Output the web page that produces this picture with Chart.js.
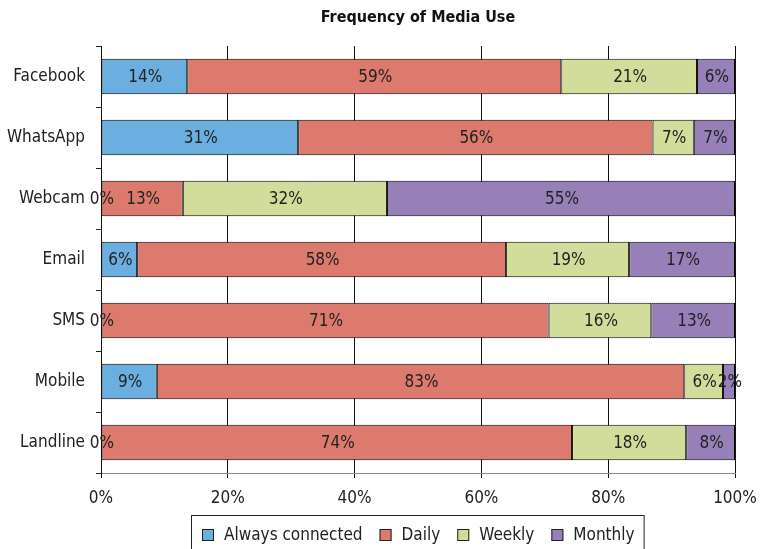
<!DOCTYPE html>
<html>
<head>
<meta charset="utf-8">
<script src="https://cdn.jsdelivr.net/npm/chart.js@4"></script>
<style>
  html, body { margin: 0; padding: 0; background: #fff; }
  #wrap { width: 760px; height: 549px; }
</style>
</head>
<body>
<div id="wrap"><canvas id="chart" width="760" height="549"></canvas></div>
<script>
// media types, top to bottom
var categories = ["Facebook", "WhatsApp", "Webcam", "Email", "SMS", "Mobile", "Landline"];
// share of users per frequency (%)
var alwaysConnected = [13.6, 31.1, 0, 5.7, 0, 8.8, 0];
var daily = [59.0, 55.9, 12.9, 58.2, 70.6, 83.2, 74.3];
var weekly = [21.4, 6.5, 32.2, 19.4, 16.2, 6.1, 18.0];
var monthly = [6.0, 6.5, 54.9, 16.7, 13.2, 1.9, 7.7];
var xTicks = [0, 20, 40, 60, 80, 100];

var FONT = "'DejaVu Sans Condensed', 'Liberation Sans Narrow', sans-serif";
Chart.defaults.font.family = FONT;
Chart.defaults.color = "#222";

// the % text inside each segment (zeros sit on the axis)
var segLabels = {
  id: "segLabels",
  afterDatasetsDraw: function(chart) {
    var ctx = chart.ctx;
    ctx.save();
    ctx.font = "17px " + FONT;
    ctx.fillStyle = "#222";
    ctx.textAlign = "center";
    ctx.textBaseline = "middle";
    chart.data.datasets.forEach(function(ds, i) {
      var meta = chart.getDatasetMeta(i);
      meta.data.forEach(function(bar, j) {
        var v = ds.data[j];
        ctx.fillText(Math.round(v) + "%", (bar.x + bar.base) / 2 + 1, bar.y + 1);
      });
    });
    ctx.restore();
  }
};

// title + boxed legend, drawn by hand so they sit where the original has them
var titleAndLegend = {
  id: "titleAndLegend",
  afterDraw: function(chart) {
    var ctx = chart.ctx;
    var mid = (chart.chartArea.left + chart.chartArea.right) / 2;
    ctx.save();
    ctx.fillStyle = "#111";
    ctx.font = "bold 16px " + FONT;
    ctx.textAlign = "center";
    ctx.textBaseline = "middle";
    ctx.fillText("Frequency of Media Use", mid, 18);

    ctx.font = "17px " + FONT;
    ctx.textAlign = "left";
    var items = chart.data.datasets.map(function(ds) {
      return { text: ds.label, color: ds.backgroundColor, w: ctx.measureText(ds.label).width };
    });
    var box = 12, gap = 10, between = 17;
    var total = items.reduce(function(a, it) { return a + box + gap + it.w; }, 0) + between * (items.length - 1);
    var x = Math.round(mid - total / 2);
    var y = 535;
    ctx.strokeStyle = "#222";
    ctx.lineWidth = 1;
    ctx.strokeRect(x - 10.5, 515.5, total + 20, 40);
    items.forEach(function(it) {
      ctx.fillStyle = it.color;
      ctx.fillRect(x, y - 6, box, box);
      ctx.strokeStyle = "#222";
      ctx.strokeRect(x + 0.5, y - 5.5, box - 1, box - 1);
      ctx.fillStyle = "#222";
      ctx.fillText(it.text, x + box + gap, y + 1);
      x += box + gap + it.w + between;
    });
    ctx.restore();
  }
};

function series(label, data, color) {
  return {
    label: label,
    data: data,
    backgroundColor: color,
    borderColor: "#000",
    borderWidth: 1,
    borderSkipped: false,
    barPercentage: 0.58,
    categoryPercentage: 1.0
  };
}

new Chart(document.getElementById("chart"), {
  type: "bar",
  data: {
    labels: categories,
    datasets: [
      series("Always connected", alwaysConnected, "#6aafe0"),
      series("Daily", daily, "#dc7a6e"),
      series("Weekly", weekly, "#d3dd9b"),
      series("Monthly", monthly, "#977fb8")
    ]
  },
  options: {
    indexAxis: "y",
    responsive: false,
    animation: false,
    layout: { padding: { left: 0, right: 25, top: 46, bottom: 36 } },
    plugins: {
      title: { display: false },
      legend: { display: false },
      tooltip: { enabled: false }
    },
    scales: {
      x: {
        stacked: true,
        min: 0,
        max: 100,
        afterBuildTicks: function(s) { s.ticks = xTicks.map(function(v) { return { value: v }; }); },
        ticks: {
          font: { size: 17 },
          color: "#222",
          padding: 10,
          callback: function(v) { return v + "%"; }
        },
        grid: { color: "#111", tickLength: 5, lineWidth: 1 },
        border: { color: "#888" },
        afterFit: function(s) {
          s.height = 40;
          s.paddingLeft = 0;
          s.paddingRight = 0;
        }
      },
      y: {
        stacked: true,
        ticks: { font: { size: 17 }, color: "#222", padding: 11 },
        grid: { drawOnChartArea: false, offset: true, tickLength: 5, color: "#222" },
        border: { color: "#111" },
        afterFit: function(s) { s.width = 101; }
      }
    }
  },
  plugins: [segLabels, titleAndLegend]
});
</script>
</body>
</html>
